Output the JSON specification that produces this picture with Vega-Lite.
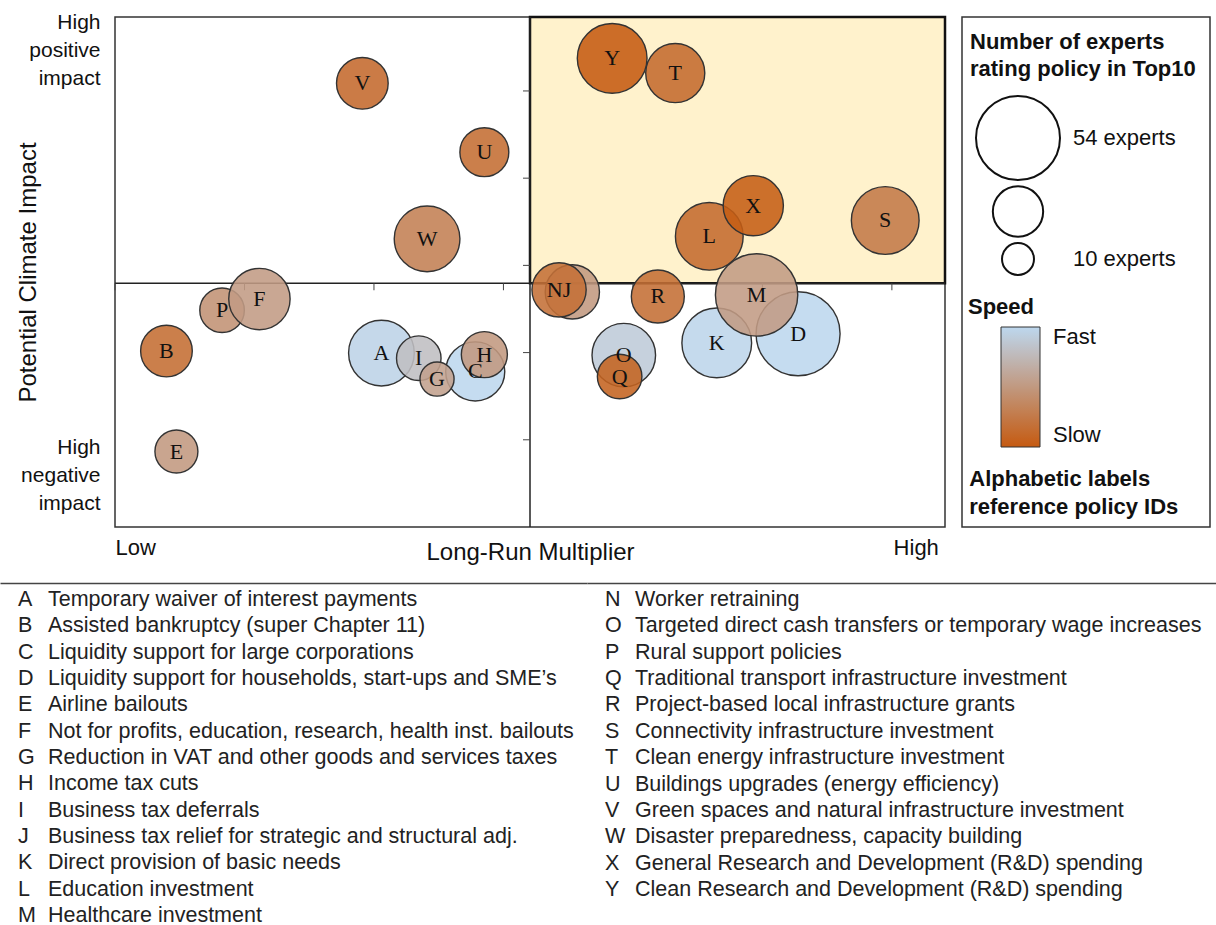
{
  "$schema": "https://vega.github.io/schema/vega-lite/v6.json",
  "background": "white",
  "padding": {"left": 15, "top": 10, "right": 0, "bottom": 0},
  "config": {"view": {"stroke": "#333333", "strokeWidth": 1.5}, "font": "Liberation Sans"},
  "datasets": {
    "policies": [
      {"id": "A", "label": "A", "x": 32.1, "y": 34.1, "experts": 34, "speed": 0.97},
      {"id": "B", "label": "B", "x": 6.2, "y": 34.5, "experts": 22, "speed": 0.15},
      {"id": "C", "label": "C", "x": 43.4, "y": 30.5, "experts": 28, "speed": 1.0},
      {"id": "D", "label": "D", "x": 82.3, "y": 37.9, "experts": 54, "speed": 1.0},
      {"id": "E", "label": "E", "x": 7.4, "y": 14.8, "experts": 16, "speed": 0.5},
      {"id": "P", "label": "P", "x": 12.9, "y": 42.5, "experts": 17, "speed": 0.45},
      {"id": "F", "label": "F", "x": 17.4, "y": 44.7, "experts": 30, "speed": 0.52},
      {"id": "I", "label": "I", "x": 36.6, "y": 33.1, "experts": 17, "speed": 0.8},
      {"id": "G", "label": "G", "x": 38.8, "y": 29.0, "experts": 11, "speed": 0.56},
      {"id": "H", "label": "H", "x": 44.5, "y": 33.8, "experts": 18, "speed": 0.5},
      {"id": "J", "label": "", "x": 55.1, "y": 46.1, "experts": 24, "speed": 0.5},
      {"id": "N", "label": "NJ", "x": 53.5, "y": 46.5, "experts": 24, "speed": 0.17},
      {"id": "K", "label": "K", "x": 72.5, "y": 36.1, "experts": 38, "speed": 0.98},
      {"id": "L", "label": "L", "x": 71.6, "y": 57.0, "experts": 36, "speed": 0.13},
      {"id": "M", "label": "M", "x": 77.3, "y": 45.5, "experts": 52, "speed": 0.52},
      {"id": "O", "label": "O", "x": 61.3, "y": 33.7, "experts": 32, "speed": 0.9},
      {"id": "Q", "label": "Q", "x": 60.8, "y": 29.5, "experts": 17, "speed": 0.07},
      {"id": "R", "label": "R", "x": 65.4, "y": 45.2, "experts": 23, "speed": 0.16},
      {"id": "S", "label": "S", "x": 92.8, "y": 60.1, "experts": 36, "speed": 0.25},
      {"id": "T", "label": "T", "x": 67.5, "y": 89.0, "experts": 28, "speed": 0.13},
      {"id": "U", "label": "U", "x": 44.5, "y": 73.5, "experts": 20, "speed": 0.15},
      {"id": "V", "label": "V", "x": 29.8, "y": 87.0, "experts": 22, "speed": 0.12},
      {"id": "W", "label": "W", "x": 37.6, "y": 56.5, "experts": 34, "speed": 0.3},
      {"id": "X", "label": "X", "x": 76.9, "y": 63.0, "experts": 29, "speed": 0.02},
      {"id": "Y", "label": "Y", "x": 59.9, "y": 91.9, "experts": 38, "speed": 0.0}
    ],
    "items": [
      {"id": "A", "desc": "Temporary waiver of interest payments"},
      {"id": "B", "desc": "Assisted bankruptcy (super Chapter 11)"},
      {"id": "C", "desc": "Liquidity support for large corporations"},
      {"id": "D", "desc": "Liquidity support for households, start-ups and SME’s"},
      {"id": "E", "desc": "Airline bailouts"},
      {"id": "F", "desc": "Not for profits, education, research, health inst. bailouts"},
      {"id": "G", "desc": "Reduction in VAT and other goods and services taxes"},
      {"id": "H", "desc": "Income tax cuts"},
      {"id": "I", "desc": "Business tax deferrals"},
      {"id": "J", "desc": "Business tax relief for strategic and structural adj."},
      {"id": "K", "desc": "Direct provision of basic needs"},
      {"id": "L", "desc": "Education investment"},
      {"id": "M", "desc": "Healthcare investment"},
      {"id": "N", "desc": "Worker retraining"},
      {"id": "O", "desc": "Targeted direct cash transfers or temporary wage increases"},
      {"id": "P", "desc": "Rural support policies"},
      {"id": "Q", "desc": "Traditional transport infrastructure investment"},
      {"id": "R", "desc": "Project-based local infrastructure grants"},
      {"id": "S", "desc": "Connectivity infrastructure investment"},
      {"id": "T", "desc": "Clean energy infrastructure investment"},
      {"id": "U", "desc": "Buildings upgrades (energy efficiency)"},
      {"id": "V", "desc": "Green spaces and natural infrastructure investment"},
      {"id": "W", "desc": "Disaster preparedness, capacity building"},
      {"id": "X", "desc": "General Research and Development (R&D) spending"},
      {"id": "Y", "desc": "Clean Research and Development (R&D) spending"}
    ]
  },
  "spacing": 18,
  "vconcat": [
    {
      "hconcat": [
        {
          "width": 830,
          "height": 510,
          "layer": [
            {
              "data": {"values": [{"quadrant": "high climate impact, high multiplier"}]},
              "mark": {"type": "rect", "fill": "#FFF2CC", "stroke": "#111111", "strokeWidth": 2.5},
              "encoding": {
                "x": {"datum": 50, "type": "quantitative", "scale": {"domain": [0, 100], "nice": false, "zero": false}},
                "x2": {"datum": 100},
                "y": {"datum": 47.8, "type": "quantitative", "scale": {"domain": [0, 100], "nice": false, "zero": false}},
                "y2": {"datum": 100}
              }
            },
            {
              "data": {"values": [{"line": "horizontal"}]},
              "mark": {"type": "rule", "color": "#222222", "strokeWidth": 1.5},
              "encoding": {
                "y": {"datum": 47.8, "type": "quantitative", "scale": {"domain": [0, 100], "nice": false, "zero": false}}
              }
            },
            {
              "data": {"values": [{"line": "vertical"}]},
              "mark": {"type": "rule", "color": "#222222", "strokeWidth": 1.5},
              "encoding": {
                "x": {"datum": 50, "type": "quantitative", "scale": {"domain": [0, 100], "nice": false, "zero": false}}
              }
            },
            {
              "data": {"values": [{"v": 0}, {"v": 15.6}, {"v": 31.2}, {"v": 46.8}, {"v": 62.4}, {"v": 78.0}, {"v": 93.6}]},
              "mark": {"type": "tick", "orient": "vertical", "size": 7, "thickness": 1, "color": "#444444", "opacity": 1, "yOffset": 3.5},
              "encoding": {
                "x": {"field": "v", "type": "quantitative", "title": "Long-Run Multiplier", "scale": {"domain": [0, 100], "nice": false, "zero": false}},
                "y": {"datum": 47.8, "type": "quantitative", "scale": {"domain": [0, 100], "nice": false, "zero": false}}
              }
            },
            {
              "data": {"values": [{"v": 17.1}, {"v": 34.2}, {"v": 51.3}, {"v": 68.4}, {"v": 85.5}]},
              "mark": {"type": "tick", "orient": "horizontal", "size": 7, "thickness": 1, "color": "#444444", "opacity": 1, "xOffset": -3.5},
              "encoding": {
                "y": {"field": "v", "type": "quantitative", "title": "Potential Climate Impact", "scale": {"domain": [0, 100], "nice": false, "zero": false}},
                "x": {"datum": 50, "type": "quantitative", "scale": {"domain": [0, 100], "nice": false, "zero": false}}
              }
            },
            {
              "data": {"name": "policies"},
              "mark": {"type": "circle", "opacity": 1, "fillOpacity": 0.88, "stroke": "#333333", "strokeWidth": 1.4, "strokeOpacity": 1},
              "encoding": {
                "x": {
                  "field": "x", "type": "quantitative", "title": "Long-Run Multiplier",
                  "scale": {"domain": [0, 100], "nice": false, "zero": false},
                  "axis": {
                    "values": [0, 99.2],
                    "labelExpr": "datum.value < 50 ? 'Low' : 'High'",
                    "labelAlign": {"condition": {"test": "datum.value < 50", "value": "left"}, "value": "right"},
                    "labelFlush": false,
                    "labelFontSize": 22, "labelFont": "Liberation Sans", "labelColor": "#111111",
                    "labelPadding": 10.5, "ticks": false, "tickSize": 0, "domain": false, "grid": false,
                    "title": "Long-Run Multiplier", "titleFontSize": 24, "titleFontWeight": "normal",
                    "titleFont": "Liberation Sans", "titleColor": "#111111",
                    "titleY": 25, "titleBaseline": "middle"
                  }
                },
                "y": {
                  "field": "y", "type": "quantitative", "title": "Potential Climate Impact",
                  "scale": {"domain": [0, 100], "nice": false, "zero": false},
                  "axis": {
                    "values": [99.0, 15.5],
                    "labelExpr": "datum.value > 50 ? ['High', 'positive', 'impact'] : ['High', 'negative', 'impact']",
                    "labelFontSize": 21, "labelFont": "Liberation Sans", "labelColor": "#111111",
                    "labelLineHeight": 28, "labelAlign": "right", "labelBaseline": "middle",
                    "labelPadding": 15, "labelOverlap": false,
                    "ticks": false, "tickSize": 0, "domain": false, "grid": false,
                    "title": "Potential Climate Impact", "titleFontSize": 24, "titleFontWeight": "normal",
                    "titleFont": "Liberation Sans", "titleColor": "#111111",
                    "titleX": -87, "titleY": 255, "titleAngle": -90, "titleAlign": "center", "titleBaseline": "middle"
                  }
                },
                "size": {"field": "experts", "type": "quantitative", "scale": {"domain": [10, 54], "range": [1024, 7056], "zero": false}, "legend": null},
                "color": {"field": "speed", "type": "quantitative", "scale": {"domain": [0, 1], "range": ["#c55a11", "#bdd7ee"], "interpolate": "rgb"}, "legend": null}
              }
            },
            {
              "data": {"name": "policies"},
              "mark": {"type": "text", "font": "Liberation Serif", "fontSize": 22, "color": "#111111", "align": "center", "baseline": "middle"},
              "encoding": {
                "x": {"field": "x", "type": "quantitative", "title": "Long-Run Multiplier", "scale": {"domain": [0, 100], "nice": false, "zero": false}},
                "y": {"field": "y", "type": "quantitative", "title": "Potential Climate Impact", "scale": {"domain": [0, 100], "nice": false, "zero": false}},
                "text": {"field": "label"}
              }
            }
          ]
        },
        {
          "width": 248,
          "height": 510,
          "title": {
            "text": ["Alphabetic labels", "reference policy IDs"],
            "orient": "bottom", "anchor": "start", "offset": -58.6, "dx": 8,
            "fontSize": 22, "fontWeight": "bold", "lineHeight": 28, "font": "Liberation Sans", "color": "#111111"
          },
          "layer": [
            {
              "data": {"values": [{"box": "legend panel"}]},
              "mark": {"type": "rect", "fill": "white", "stroke": "#333333", "strokeWidth": 1.5},
              "encoding": {}
            },
            {
              "data": {"name": "policies"},
              "transform": [{"filter": "false"}],
              "mark": {"type": "circle", "opacity": 1},
              "encoding": {
                "size": {
                  "field": "experts", "type": "quantitative",
                  "scale": {"domain": [10, 54], "range": [1024, 7056], "zero": false},
                  "legend": {
                    "orient": "none", "legendX": 8, "legendY": 14.5, "direction": "vertical", "padding": 0,
                    "title": ["Number of experts", "rating policy in Top10"],
                    "titleFontSize": 22, "titleFontWeight": "bold", "titleFont": "Liberation Sans", "titleColor": "#111111",
                    "titleLineHeight": 27, "titleLimit": 400, "titlePadding": 14.5,
                    "values": [54, 21, 10],
                    "labelExpr": "datum.value == 54 ? '54 experts' : datum.value == 10 ? '10 experts' : ''",
                    "labelFontSize": 22, "labelFont": "Liberation Sans", "labelColor": "#111111", "labelOffset": 12,
                    "rowPadding": -2, "symbolOffset": 5, "symbolType": "circle",
                    "symbolFillColor": "transparent", "symbolStrokeColor": "#111111", "symbolStrokeWidth": 2,
                    "encode": {"symbols": {"update": {"fill": {"value": "transparent"}, "stroke": {"value": "#111111"}, "strokeWidth": {"value": 2}, "opacity": {"value": 1}}}}
                  }
                },
                "color": {
                  "field": "speed", "type": "quantitative",
                  "scale": {"domain": [0, 1], "range": ["#c55a11", "#bdd7ee"], "interpolate": "rgb"},
                  "legend": {
                    "orient": "none", "legendX": 6, "legendY": 279.5, "direction": "vertical", "padding": 0,
                    "title": "Speed", "titleFontSize": 22, "titleFontWeight": "bold", "titleFont": "Liberation Sans", "titleColor": "#111111",
                    "titleAnchor": "start", "titleAlign": "center",
                    "titlePadding": 8.5,
                    "gradientLength": 120, "gradientThickness": 39, "gradientStrokeColor": "#333333", "gradientStrokeWidth": 1,
                    "gradientOpacity": 1,
                    "values": [0, 1],
                    "labelExpr": "datum.value > 0.5 ? 'Fast' : 'Slow'",
                    "labelFontSize": 22, "labelFont": "Liberation Sans", "labelColor": "#111111", "labelOffset": 13
                  }
                }
              }
            }
          ]
        }
      ],
      "spacing": 17,
      "bounds": "flush",
      "resolve": {"scale": {"color": "independent", "size": "independent"}, "legend": {"color": "independent", "size": "independent"}}
    },
    {
      "hconcat": [
        {
          "width": 472,
          "height": 350,
          "view": {"stroke": null},
          "data": {"name": "items"},
          "transform": [{"filter": "datum.id <= 'M'"}],
          "encoding": {
            "y": {"field": "id", "type": "ordinal", "scale": {"type": "point", "padding": 0.645}, "axis": null},
            "x": {"datum": 0, "type": "quantitative", "scale": {"domain": [0, 1], "range": [-115, 472]}, "axis": {"orient": "top", "domain": true, "domainColor": "#444444", "domainWidth": 1.5, "ticks": false, "labels": false, "grid": false, "title": null}}
          },
          "layer": [
            {"mark": {"type": "text", "align": "left", "baseline": "middle", "dx": 18, "font": "Liberation Sans", "fontSize": 21.5, "color": "#222222"}, "encoding": {"text": {"field": "id"}}},
            {"mark": {"type": "text", "align": "left", "baseline": "middle", "dx": 48, "font": "Liberation Sans", "fontSize": 21.5, "color": "#222222"}, "encoding": {"text": {"field": "desc"}}}
          ]
        },
        {
          "width": 629,
          "height": 324,
          "view": {"stroke": null},
          "data": {"name": "items"},
          "transform": [{"filter": "datum.id >= 'N'"}],
          "encoding": {
            "y": {"field": "id", "type": "ordinal", "scale": {"type": "point", "padding": 0.645}, "axis": null},
            "x": {"datum": 0, "type": "quantitative", "scale": {"domain": [0, 1]}, "axis": {"orient": "top", "domain": true, "domainColor": "#444444", "domainWidth": 1.5, "ticks": false, "labels": false, "grid": false, "title": null}}
          },
          "layer": [
            {"mark": {"type": "text", "align": "left", "baseline": "middle", "dx": 18, "font": "Liberation Sans", "fontSize": 21.5, "color": "#222222"}, "encoding": {"text": {"field": "id"}}},
            {"mark": {"type": "text", "align": "left", "baseline": "middle", "dx": 48, "font": "Liberation Sans", "fontSize": 21.5, "color": "#222222"}, "encoding": {"text": {"field": "desc"}}}
          ]
        }
      ],
      "spacing": 0,
      "bounds": "flush"
    }
  ]
}
